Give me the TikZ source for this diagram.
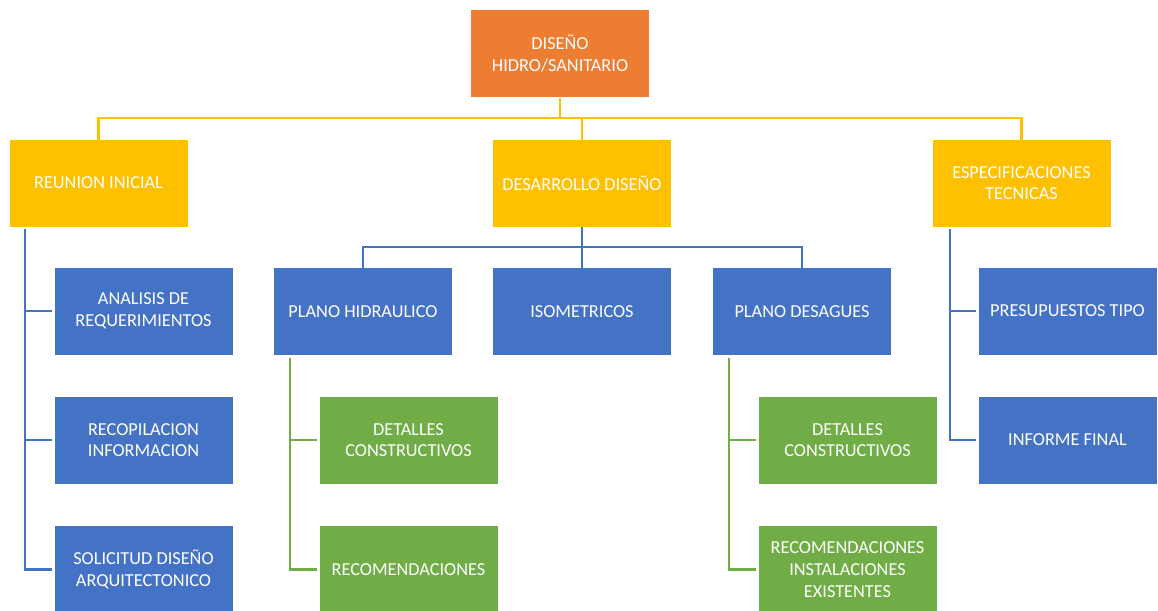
\documentclass[tikz,border=0pt]{standalone}
\usepackage{fontspec}
\setmainfont{Carlito}
\definecolor{cOrange}{HTML}{ED7D31}
\definecolor{cYellow}{HTML}{FFC000}
\definecolor{cBlue}{HTML}{4472C4}
\definecolor{cGreen}{HTML}{70AD47}
\begin{document}
\begin{tikzpicture}[x=1pt,y=-1pt,
  box/.style={draw=white,line width=0.8pt,minimum width=179pt,minimum height=88pt,
    inner sep=0pt,align=center,text=white,font=\fontsize{18.3}{21.7}\selectfont},
  orangebox/.style={box,fill=cOrange},
  yellowbox/.style={box,fill=cYellow},
  bluebox/.style={box,fill=cBlue},
  greenbox/.style={box,fill=cGreen},
  ylink/.style={draw=cYellow,line width=2.6pt},
  blink/.style={draw=cBlue,line width=2.6pt},
  glink/.style={draw=cGreen,line width=2.6pt}]
\fill[white] (0,0) rectangle (1158,610);
\useasboundingbox (0,0) rectangle (1158,610);
\clip (0,0) rectangle (1158,610);

% top level
\node[orangebox] (top) at (560,53.5) {DISEÑO\\HIDRO/SANITARIO};

% second level
\node[yellowbox] (reunion) at (98.5,183) {REUNION INICIAL};
\node[yellowbox] (desarrollo) at (582,183) {DESARROLLO DISEÑO};
\node[yellowbox] (espec) at (1021.5,183) {ESPECIFICACIONES\\TECNICAS};

% children of REUNION INICIAL
\node[bluebox] (analisis) at (143.5,311) {ANALISIS DE\\REQUERIMIENTOS};
\node[bluebox] (recop) at (143.5,440) {RECOPILACION\\INFORMACION};
\node[bluebox] (solic) at (143.5,569.5) {SOLICITUD DISEÑO\\ARQUITECTONICO};

% children of DESARROLLO DISEÑO
\node[bluebox] (hidra) at (363,311.5) {PLANO HIDRAULICO};
\node[bluebox] (iso) at (582,311.5) {ISOMETRICOS};
\node[bluebox] (desag) at (802,311.5) {PLANO DESAGUES};

% children of the two plans
\node[greenbox] (det1) at (408.5,440) {DETALLES\\CONSTRUCTIVOS};
\node[greenbox] (rec1) at (408.5,569.5) {RECOMENDACIONES};
\node[greenbox] (det2) at (847.5,440) {DETALLES\\CONSTRUCTIVOS};
\node[greenbox] (rec2) at (847.5,569.5) {RECOMENDACIONES\\INSTALACIONES\\EXISTENTES};

% children of ESPECIFICACIONES TECNICAS
\node[bluebox] (presu) at (1067.5,311) {PRESUPUESTOS TIPO};
\node[bluebox] (inform) at (1067.5,440) {INFORME FINAL};

% bus coordinates
\coordinate (busA) at (560,118);
\coordinate (busB) at (582,247);
\coordinate (railA) at (25,229);
\coordinate (railB) at (290,358);
\coordinate (railC) at (729,358);
\coordinate (railD) at (950,229);

% top to second level
\draw[ylink] (top.south) -- (busA);
\draw[ylink] ([yshift=-3]reunion.north) |- (busA) -| ([yshift=-3]espec.north);
\draw[ylink] (busA -| desarrollo.north) -- ([yshift=-3]desarrollo.north);

% REUNION INICIAL rail
\draw[blink] (railA) |- ([xshift=-2]analisis.west);
\draw[blink] (railA) |- ([xshift=-2]recop.west);
\draw[blink] (railA) |- ([xshift=-2]solic.west);

% DESARROLLO DISEÑO bus
\draw[blink] (desarrollo.south) -- (busB);
\draw[blink] ([yshift=-2]hidra.north) |- (busB) -| ([yshift=-2]desag.north);
\draw[blink] (busB) -- ([yshift=-2]iso.north);

% plan rails
\draw[glink] (railB) |- ([xshift=-2]det1.west);
\draw[glink] (railB) |- ([xshift=-2]rec1.west);
\draw[glink] (railC) |- ([xshift=-2]det2.west);
\draw[glink] (railC) |- ([xshift=-2]rec2.west);

% ESPECIFICACIONES TECNICAS rail
\draw[blink] (railD) |- ([xshift=-2]presu.west);
\draw[blink] (railD) |- ([xshift=-2]inform.west);
\end{tikzpicture}
\end{document}
